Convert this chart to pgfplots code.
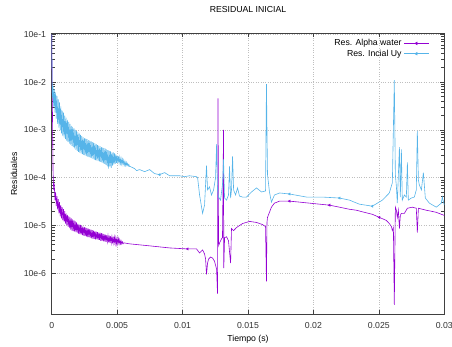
\documentclass[border=0pt]{standalone}
\usepackage{fontspec}
\setmainfont{Liberation Sans}
\usepackage{pgfplots}
\pgfplotsset{compat=1.18}
\definecolor{gpviolet}{HTML}{9400D3}
\definecolor{gpblue}{HTML}{56B4E9}
\newcommand{\fs}{\fontsize{8.7}{10}\selectfont}
\begin{document}
\begin{tikzpicture}
\useasboundingbox (0,0) rectangle (452pt,346pt);
\begin{axis}[
  at={(51.7pt,31.7pt)}, anchor=south west,
  scale only axis, width=392.6pt, height=281pt,
  ymode=log,
  xmin=0, xmax=0.03, ymin=1.39e-7, ymax=0.105,
  xtick={0,0.005,0.01,0.015,0.02,0.025,0.03},
  xticklabels={0,0.005,0.01,0.015,0.02,0.025,0.03},
  ytick={1e-6,1e-5,1e-4,1e-3,1e-2,1e-1},
  yticklabels={10e-6,10e-5,10e-4,10e-3,10e-2,10e-1},
  tick align=inside, major tick length=4pt,
  tick style={black!75, line width=0.7pt},
  axis line style={black!75, line width=0.9pt},
  grid=major, grid style={dotted, line width=0.6pt, black!25},
  every tick label/.append style={font=\fs, text=black!80},
  xticklabel style={anchor=center, yshift=-11.4pt},
  yticklabel style={anchor=east, xshift=-2.1pt},
  title={RESIDUAL INICIAL},
  title style={at={(0.5,1)}, anchor=center, yshift=17.3pt, font=\fs},
  xlabel={Tiempo (s)},
  xlabel style={at={(axis description cs:0.5,-0.0897)}, anchor=center, font=\fs},
  ylabel={Residuales},
  ylabel style={at={(axis description cs:-0.096,0.5)}, anchor=center, font=\fs},
  legend style={at={(1,1)}, anchor=north east, xshift=-12pt, yshift=-2pt,
    draw=none, fill=none, font=\fs, row sep=-1.5pt},
  legend cell align=right, legend plot pos=right,
  legend image code/.code={\draw[#1] (0pt,0pt) -- (25pt,0pt);
    \draw[#1, mark=triangle*, mark size=1.4pt, mark options={rotate=90}] plot coordinates {(12.5pt,0pt)};},
]
\addplot[gpviolet, line width=0.6pt, mark=none] coordinates {
(0,1e-1)
(0.0001,1.48e-4)(0.00015,5.56e-5)(0.0002,6.76e-5)(0.00025,3.40e-5)(0.0003,5.04e-5)(0.00035,2.54e-5)
(0.0004,4.14e-5)(0.00045,2.19e-5)(0.0005,3.58e-5)(0.00055,1.80e-5)(0.0006,3.09e-5)(0.00065,1.56e-5)
(0.0007,2.67e-5)(0.00075,1.41e-5)(0.0008,2.42e-5)(0.00085,1.28e-5)(0.0009,2.19e-5)(0.00095,1.19e-5)
(0.0010,1.99e-5)(0.00105,1.10e-5)(0.0011,1.80e-5)(0.00115,1.03e-5)(0.0012,1.67e-5)(0.00125,9.52e-6)
(0.0013,1.56e-5)(0.00135,8.85e-6)(0.0014,1.48e-5)(0.00145,8.22e-6)(0.0015,1.41e-5)(0.00155,7.83e-6)
(0.0016,1.34e-5)(0.00165,7.64e-6)(0.0017,1.28e-5)(0.00175,7.45e-6)(0.0018,1.22e-5)(0.00185,7.27e-6)
(0.0019,1.16e-5)(0.00195,7.10e-6)(0.0020,1.10e-5)(0.00205,6.76e-6)(0.0021,1.05e-5)(0.00215,6.60e-6)
(0.0022,1.03e-5)(0.00225,6.44e-6)(0.0023,1.00e-5)(0.00235,6.28e-6)(0.0024,9.52e-6)(0.00245,6.13e-6)
(0.0025,9.29e-6)(0.00255,5.98e-6)(0.0026,9.07e-6)(0.00265,5.84e-6)(0.0027,8.85e-6)(0.00275,5.70e-6)
(0.0028,8.63e-6)(0.00285,5.70e-6)(0.0029,8.42e-6)(0.00295,5.56e-6)(0.0030,8.22e-6)(0.00305,5.42e-6)
(0.0031,8.02e-6)(0.00315,5.29e-6)(0.0032,7.83e-6)(0.00325,5.29e-6)(0.0033,7.64e-6)(0.00335,5.16e-6)
(0.0034,7.45e-6)(0.00345,5.16e-6)(0.0035,7.27e-6)(0.00355,5.04e-6)(0.0036,7.10e-6)(0.00365,5.04e-6)
(0.0037,7.10e-6)(0.00375,4.80e-6)(0.0038,6.93e-6)(0.00385,4.80e-6)(0.0039,6.76e-6)(0.00395,4.69e-6)
(0.0040,6.60e-6)(0.00405,4.69e-6)(0.0041,6.44e-6)(0.00415,4.57e-6)(0.0042,6.28e-6)(0.00425,4.57e-6)
(0.0043,6.13e-6)(0.00435,4.46e-6)(0.0044,6.13e-6)(0.00445,4.35e-6)(0.0045,5.98e-6)(0.00455,4.35e-6)
(0.0046,5.84e-6)(0.00465,4.25e-6)(0.0047,5.84e-6)(0.00475,4.25e-6)(0.0048,5.70e-6)(0.00485,4.14e-6)
(0.0049,5.56e-6)(0.00495,4.14e-6)(0.0050,5.42e-6)(0.00505,4.14e-6)(0.0051,5.29e-6)(0.00515,4.14e-6)
(0.0052,5.04e-6)(0.00525,4.14e-6)(0.0053,4.80e-6)(0.00535,4.14e-6)(0.0054,4.57e-6)(0.00545,4.14e-6)
(0.0055,4.35e-6)
(0.00595,4.14e-6)(0.00748,3.76e-6)(0.00901,3.40e-6)(0.01038,3.24e-6)(0.01107,3.24e-6)
(0.0113,2.67e-6)(0.01145,2.94e-6)(0.01153,3.09e-6)(0.01168,2.54e-6)(0.01176,1.99e-6)
(0.01183,9.52e-7)(0.01191,1.63e-6)(0.01199,1.99e-6)(0.01214,2.19e-6)(0.01229,2.09e-6)
(0.01244,1.80e-6)(0.0126,1.22e-6)(0.01267,3.76e-7)(0.01271,4.57e-3)(0.01275,3.76e-6)
(0.01283,4.35e-6)(0.01298,5.29e-6)(0.01305,5.56e-6)(0.01313,1.0e-3)(0.01315,1.28e-6)
(0.01321,5.56e-6)(0.01336,5.84e-6)(0.01351,4.80e-6)(0.01367,1.63e-6)(0.01374,8.63e-6)
(0.0139,7.83e-6)(0.01412,9.07e-6)(0.01458,1.10e-5)(0.01512,1.22e-5)(0.01565,1.16e-5)
(0.0161,1.05e-5)(0.01634,9.52e-6)(0.01641,6.76e-7)(0.01645,1.16e-5)(0.01649,1.48e-5)
(0.01664,1.89e-5)(0.01679,2.42e-5)(0.01702,2.94e-5)(0.01741,3.24e-5)(0.01817,3.24e-5)
(0.01893,3.09e-5)(0.0197,2.94e-5)(0.02046,2.80e-5)(0.02122,2.67e-5)(0.02199,2.42e-5)
(0.02275,2.19e-5)(0.02328,2.09e-5)(0.02389,1.89e-5)(0.0245,1.72e-5)(0.02504,1.48e-5)
(0.02557,1.28e-5)(0.0258,1.10e-5)(0.02596,9.52e-6)(0.02603,7.83e-6)(0.02611,9.07e-6)
(0.02618,2.19e-7)(0.02626,2.42e-5)(0.02634,2.09e-5)(0.02641,1.48e-5)(0.02649,2.09e-5)
(0.02657,8.63e-6)(0.02664,1.63e-5)(0.02672,1.80e-5)(0.02695,1.80e-5)(0.02718,2.30e-5)
(0.02756,2.42e-5)(0.02786,2.30e-5)(0.02794,7.10e-6)(0.02802,2.30e-5)(0.02832,2.19e-5)
(0.02863,2.09e-5)(0.02901,1.99e-5)(0.02939,1.89e-5)(0.02977,1.72e-5)(0.03,1.63e-5)
};
\addlegendentry{Res. Alpha water}
\addplot[gpblue, line width=0.6pt, mark=none] coordinates {
(0,1e-1)(0.00005,4.57e-3)
(0.0001,8.22e-3)(0.00015,3.09e-3)(0.0002,7.10e-3)(0.00025,2.30e-3)(0.0003,6.13e-3)(0.00035,1.72e-3)
(0.0004,5.16e-3)(0.00045,1.34e-3)(0.0005,4.35e-3)(0.00055,1.12e-3)(0.0006,3.76e-3)(0.00065,9.76e-4)
(0.0007,3.09e-3)(0.00075,8.43e-4)(0.0008,2.54e-3)(0.00085,7.45e-4)(0.0009,2.30e-3)(0.00095,6.93e-4)
(0.0010,1.99e-3)(0.00105,6.44e-4)(0.0011,1.80e-3)(0.00115,5.98e-4)(0.0012,1.63e-3)(0.00125,5.56e-4)
(0.0013,1.48e-3)(0.00135,5.16e-4)(0.0014,1.34e-3)(0.00145,4.92e-4)(0.0015,1.22e-3)(0.00155,4.62e-4)
(0.0016,1.16e-3)(0.00165,4.35e-4)(0.0017,1.08e-3)(0.00175,4.11e-4)(0.0018,1.00e-3)(0.00185,3.85e-4)
(0.0019,9.52e-4)(0.00195,3.66e-4)(0.0020,9.07e-4)(0.00205,3.49e-4)(0.0021,8.43e-4)(0.00215,3.32e-4)
(0.0022,7.83e-4)(0.00225,3.20e-4)(0.0023,7.45e-4)(0.00235,3.13e-4)(0.0024,7.10e-4)(0.00245,3.01e-4)
(0.0025,6.76e-4)(0.00255,2.90e-4)(0.0026,6.59e-4)(0.00265,2.83e-4)(0.0027,6.44e-4)(0.00275,2.76e-4)
(0.0028,6.13e-4)(0.00285,2.70e-4)(0.0029,5.98e-4)(0.00295,2.63e-4)(0.0030,5.84e-4)(0.00305,2.57e-4)
(0.0031,5.56e-4)(0.00315,2.48e-4)(0.0032,5.43e-4)(0.00325,2.39e-4)(0.0033,5.29e-4)(0.00335,2.33e-4)
(0.0034,5.04e-4)(0.00345,2.27e-4)(0.0035,4.80e-4)(0.00355,2.22e-4)(0.0036,4.68e-4)(0.00365,2.19e-4)
(0.0037,4.57e-4)(0.00375,2.14e-4)(0.0038,4.35e-4)(0.00385,2.04e-4)(0.0039,4.24e-4)(0.00395,1.99e-4)
(0.0040,4.14e-4)(0.00405,1.94e-4)(0.0041,4.04e-4)(0.00415,1.85e-4)(0.0042,3.94e-4)(0.00425,1.72e-4)
(0.0043,3.76e-4)(0.00435,1.55e-4)(0.0044,3.66e-4)(0.00445,1.72e-4)(0.0045,3.58e-4)(0.00455,1.60e-4)
(0.0046,3.40e-4)(0.00465,1.80e-4)(0.0047,3.40e-4)(0.00475,1.89e-4)(0.0048,3.24e-4)(0.00485,1.94e-4)
(0.0049,3.09e-4)(0.00495,2.04e-4)(0.0050,2.94e-4)(0.00505,2.04e-4)(0.0051,2.80e-4)(0.00515,2.04e-4)
(0.0052,2.67e-4)(0.00525,1.99e-4)(0.0053,2.54e-4)(0.00535,1.94e-4)(0.0054,2.42e-4)(0.00545,1.89e-4)
(0.0055,2.30e-4)(0.00555,1.85e-4)(0.0056,2.19e-4)(0.00565,1.80e-4)(0.0057,2.09e-4)(0.00575,1.80e-4)
(0.0058,1.99e-4)(0.00585,1.76e-4)(0.0059,1.89e-4)(0.00595,1.72e-4)(0.0060,1.72e-4)
(0.00634,1.55e-4)(0.00649,1.41e-4)(0.00672,1.48e-4)(0.0071,1.34e-4)(0.00748,1.48e-4)
(0.00786,1.22e-4)(0.00824,1.16e-4)(0.00863,1.28e-4)(0.00901,1.10e-4)(0.00977,1.10e-4)
(0.01015,1.05e-4)(0.01053,1.10e-4)(0.01107,1.05e-4)(0.01115,1.0e-4)(0.0113,4.35e-5)
(0.01153,1.80e-5)(0.01168,2.67e-5)(0.01183,1.80e-4)(0.01191,5.56e-5)(0.01206,6.44e-5)
(0.01221,4.35e-5)(0.01237,5.56e-5)(0.01252,1.0e-4)(0.0126,5.04e-4)(0.01267,5.56e-5)
(0.01275,3.94e-5)(0.0129,3.40e-5)(0.01305,7.10e-5)(0.01313,2.42e-4)(0.01321,3.76e-5)
(0.01336,3.40e-5)(0.01351,4.35e-5)(0.01359,1.72e-4)(0.01367,3.76e-5)(0.01374,5.56e-5)
(0.01382,2.80e-4)(0.0139,5.56e-5)(0.01405,4.35e-5)(0.0142,6.12e-5)(0.01435,4.14e-5)
(0.01458,3.94e-5)(0.01489,3.94e-5)(0.01527,5.04e-5)(0.01565,6.12e-5)(0.01603,5.04e-5)
(0.01634,5.29e-5)(0.01641,9.07e-3)(0.01649,1.16e-4)(0.01664,5.04e-5)(0.01679,3.09e-5)
(0.01702,4.35e-5)(0.01741,4.80e-5)(0.01817,4.57e-5)(0.01947,3.94e-5)(0.02069,3.94e-5)
(0.02199,3.76e-5)(0.02275,3.40e-5)(0.02351,2.80e-5)(0.0245,2.54e-5)(0.02527,3.40e-5)
(0.0258,4.80e-5)(0.02603,7.83e-5)(0.02618,1.10e-2)(0.02626,1.16e-4)(0.02634,6.44e-5)
(0.02641,2.94e-5)(0.02657,4.35e-4)(0.02664,3.94e-5)(0.02672,3.94e-4)(0.02679,3.40e-5)
(0.02695,4.35e-5)(0.0271,3.94e-5)(0.02718,2.09e-4)(0.02725,3.40e-5)(0.02748,3.76e-5)
(0.02771,3.94e-5)(0.02786,5.56e-5)(0.02794,9.52e-4)(0.02802,9.07e-5)(0.02809,7.10e-5)
(0.02825,5.56e-5)(0.0284,1.28e-4)(0.02855,3.76e-5)(0.02886,2.94e-5)(0.02939,2.42e-5)
(0.02977,2.94e-5)(0.02985,3.94e-5)(0.03,2.67e-5)
};
\addlegendentry{Res. Incial Uy}
\addplot[gpviolet, only marks, mark=triangle*, mark size=1.3pt, mark options={rotate=90}, forget plot]
  coordinates {(0.01038,3.24e-6)(0.01817,3.24e-5)(0.02122,2.67e-5)(0.02504,1.48e-5)};
\addplot[gpblue, only marks, mark=triangle*, mark size=1.3pt, mark options={rotate=90}, forget plot]
  coordinates {(0.00824,1.16e-4)(0.01817,4.57e-5)(0.02199,3.76e-5)(0.0245,2.54e-5)};
\end{axis}
\end{tikzpicture}
\end{document}
